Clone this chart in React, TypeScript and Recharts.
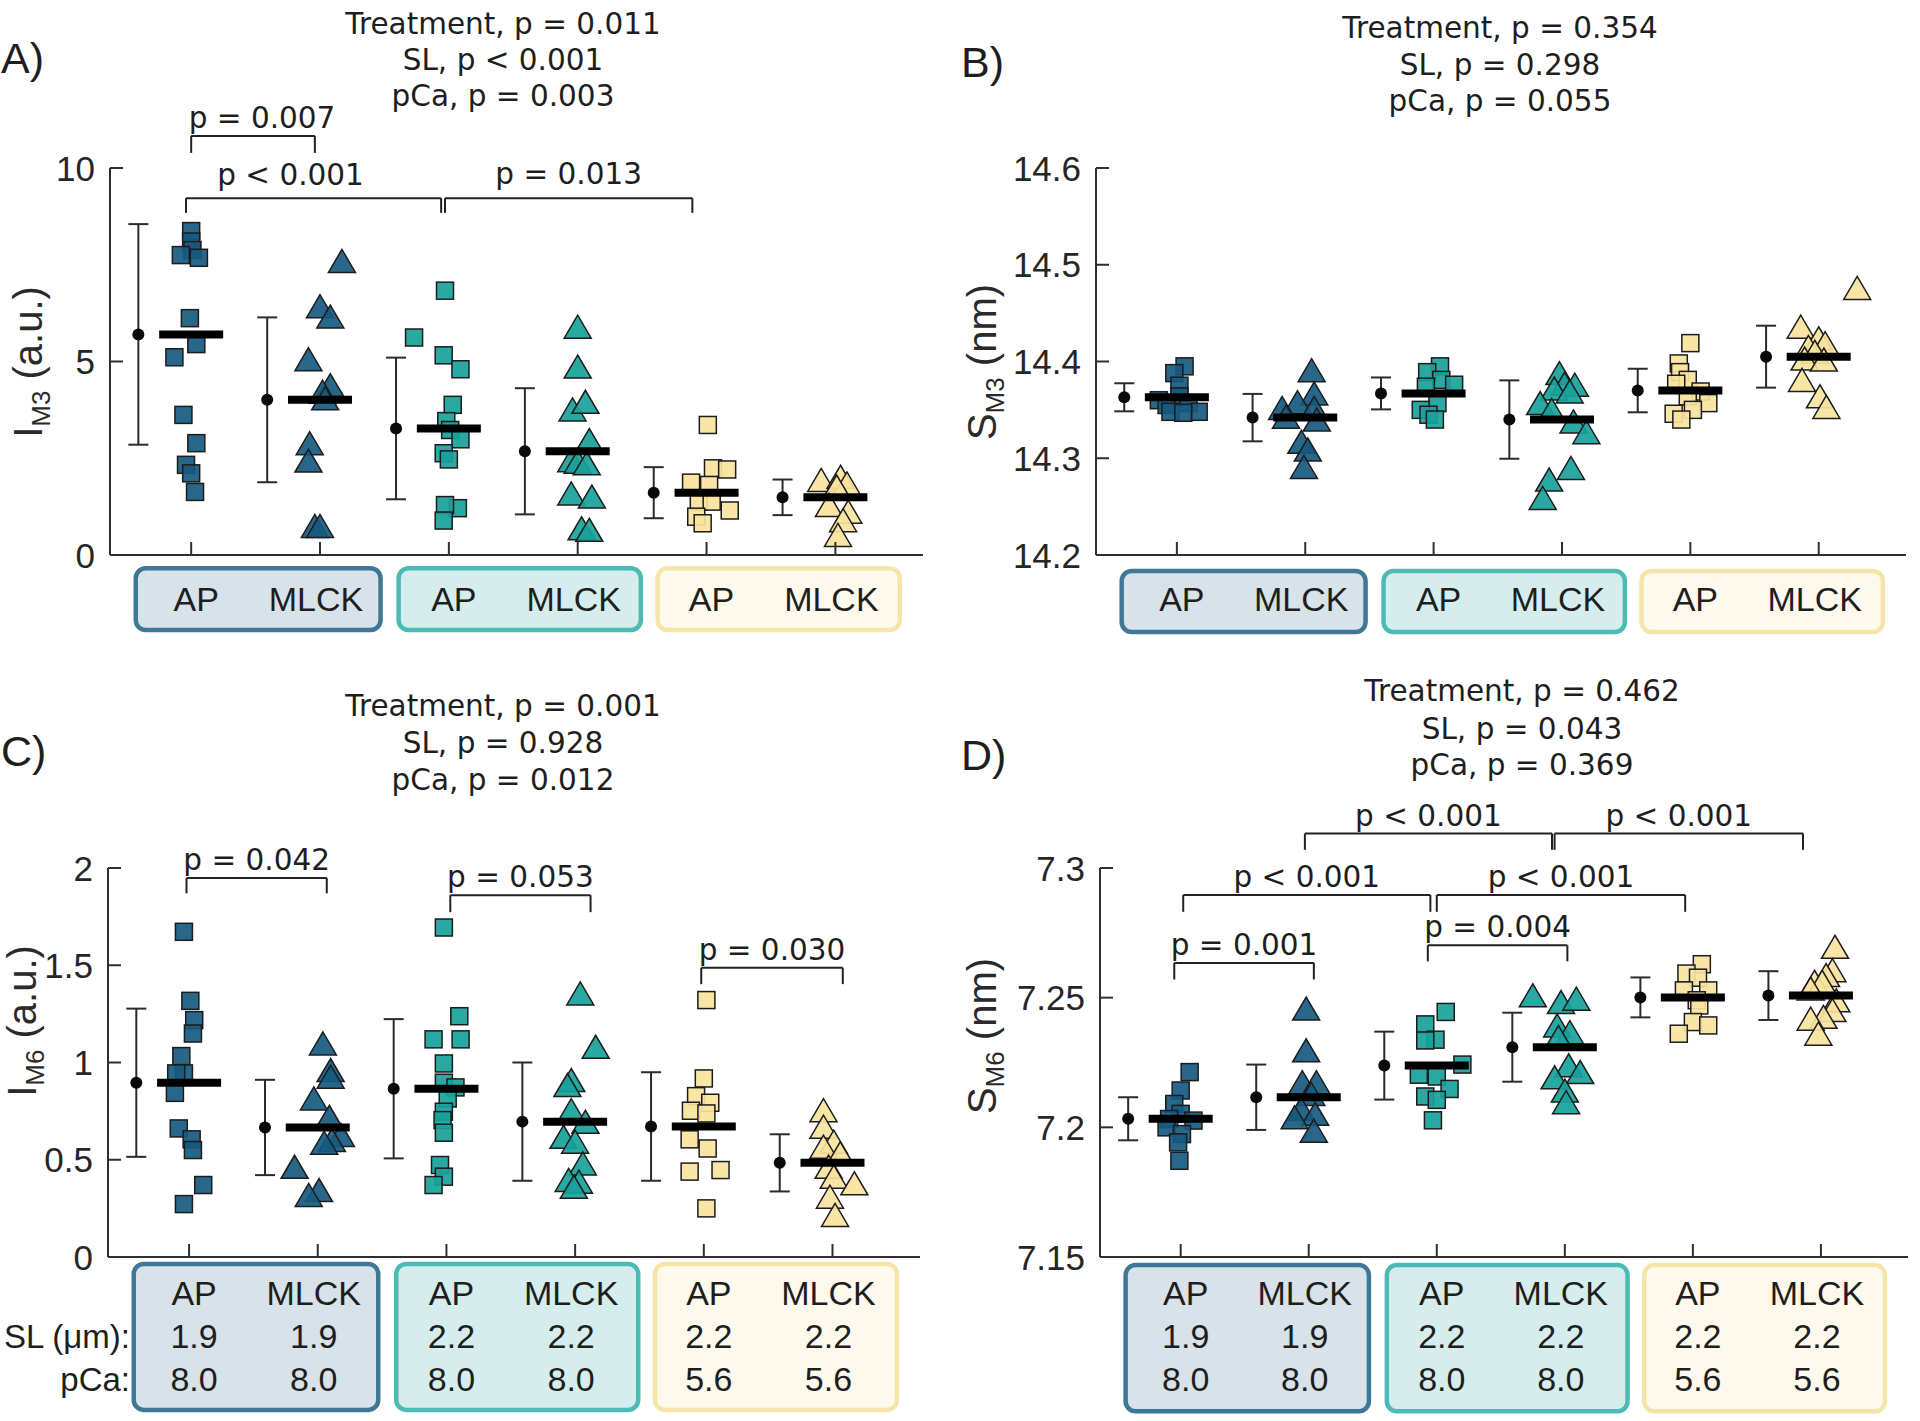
import React from 'react';
import {
  ComposedChart,
  Scatter,
  XAxis,
  YAxis,
  ErrorBar,
  ReferenceLine,
  ReferenceArea,
} from 'recharts';

// categories along x (1..6) and their labels
const CATEGORIES = [1, 2, 3, 4, 5, 6];
const TREATMENTS = ['AP', 'MLCK', 'AP', 'MLCK', 'AP', 'MLCK'];
const SL_VALUES = ['1.9', '1.9', '2.2', '2.2', '2.2', '2.2'];
const PCA_VALUES = ['8.0', '8.0', '8.0', '8.0', '5.6', '5.6'];

// ---- panel A: I_M3 ----
const A_VALUES = [
  [8.37, 8.1, 7.88, 7.75, 7.68, 6.12, 5.45, 5.11, 3.62, 2.89, 2.33, 2.11, 1.63],
  [7.6, 6.43, 6.16, 5.06, 4.39, 4.22, 4.05, 2.89, 2.44, 0.75, 0.75],
  [6.83, 5.62, 5.16, 4.8, 3.88, 3.46, 3.23, 2.99, 2.63, 2.47, 1.21, 1.29, 0.89],
  [5.9, 4.87, 3.76, 3.96, 2.97, 2.45, 2.41, 2.37, 1.59, 1.51, 0.69, 0.65],
  [3.36, 2.24, 2.21, 1.87, 1.81, 1.38, 1.38, 1.15, 0.99, 0.82],
  [1.94, 2.02, 1.85, 1.77, 1.29, 1.12, 0.9, 0.52],
];
const A_JITTER = [
  [0, 0, 0.01, -0.08, 0.06, -0.01, 0.04, -0.13, -0.06, 0.04, -0.04, 0, 0.03],
  [0.17, 0, 0.08, -0.09, 0.08, 0.02, 0.04, -0.08, -0.09, -0.04, 0],
  [-0.03, -0.27, -0.04, 0.09, 0.03, -0.02, 0.01, 0.09, -0.04, 0, 0.07, -0.03, -0.04],
  [0, 0, -0.04, 0.06, 0.09, -0.05, 0, 0.07, -0.05, 0.11, 0.03, 0.09],
  [0.01, 0.05, 0.16, -0.12, 0.02, -0.06, 0.04, 0.18, -0.08, -0.03],
  [-0.11, 0.04, 0.09, 0.01, -0.05, 0.1, 0.06, 0.02],
];
const A_MEANS = [5.7, 4.01, 3.27, 2.68, 1.61, 1.49];
const A_SD = [2.85, 2.13, 1.83, 1.63, 0.66, 0.46];
const A_BRACKETS = [
  { x1: 1.0, x2: 1.96, y: 10.83, leg: 10.39, text: 'p = 0.007', dx: 9, off: 8 },
  { x1: 0.96, x2: 2.94, y: 9.22, leg: 8.84, text: 'p < 0.001', dx: -23, off: 13 },
  { x1: 2.97, x2: 4.89, y: 9.22, leg: 8.84, text: 'p = 0.013', dx: 0, off: 14 },
];
const A_TITLE = ['Treatment, p = 0.011', 'SL, p < 0.001', 'pCa, p = 0.003'];

// ---- panel B: S_M3 ----
const B_VALUES = [
  [14.395, 14.388, 14.375, 14.364, 14.36, 14.357, 14.355, 14.348, 14.348, 14.347],
  [14.391, 14.367, 14.358, 14.352, 14.352, 14.343, 14.34, 14.317, 14.309, 14.291],
  [14.395, 14.389, 14.381, 14.376, 14.374, 14.357, 14.35, 14.345, 14.34],
  [14.388, 14.377, 14.376, 14.372, 14.369, 14.357, 14.35, 14.338, 14.327, 14.29, 14.278, 14.259],
  [14.419, 14.398, 14.389, 14.381, 14.377, 14.369, 14.364, 14.357, 14.35, 14.346, 14.34],
  [14.476, 14.436, 14.424, 14.419, 14.415, 14.41, 14.403, 14.402, 14.381, 14.364, 14.353],
];
const B_JITTER = [
  [0.06, -0.02, 0.02, 0.02, -0.14, 0.09, -0.08, 0.17, -0.05, 0.05],
  [0.05, 0.07, -0.06, -0.18, 0.07, -0.15, 0.09, -0.03, 0.02, -0.01],
  [0.05, -0.05, 0.06, 0.16, -0.06, 0.03, -0.1, -0.04, 0.01],
  [-0.02, 0.02, 0.1, -0.06, 0.06, -0.17, -0.08, 0.09, 0.19, 0.07, -0.1, -0.15],
  [0, -0.09, -0.08, -0.02, -0.11, 0.08, -0.02, 0.14, 0.02, -0.13, -0.07],
  [0.3, -0.14, 0, 0.05, -0.08, -0.03, -0.11, 0.04, -0.13, 0.01, 0.06],
];
const B_MEANS = [14.363, 14.342, 14.367, 14.34, 14.37, 14.405];
const B_SD = [0.0145, 0.0245, 0.0165, 0.0405, 0.0225, 0.032];
const B_TITLE = ['Treatment, p = 0.354', 'SL, p = 0.298', 'pCa, p = 0.055'];

// ---- panel C: I_M6 ----
const C_VALUES = [
  [1.672, 1.317, 1.218, 1.149, 1.033, 0.944, 0.944, 0.844, 0.661, 0.605, 0.55, 0.37, 0.272],
  [1.098, 0.961, 0.927, 0.815, 0.721, 0.627, 0.601, 0.588, 0.464, 0.344, 0.319],
  [1.694, 1.238, 1.119, 1.119, 0.995, 0.896, 0.872, 0.815, 0.747, 0.704, 0.639, 0.473, 0.413, 0.37],
  [1.355, 1.081, 0.91, 0.884, 0.755, 0.695, 0.618, 0.593, 0.481, 0.396, 0.387, 0.361],
  [1.321, 0.918, 0.827, 0.793, 0.752, 0.738, 0.605, 0.558, 0.439, 0.447, 0.25],
  [0.755, 0.67, 0.593, 0.567, 0.533, 0.464, 0.413, 0.379, 0.31, 0.216],
];
const C_JITTER = [
  [-0.04, 0.01, 0.04, 0.03, -0.06, -0.04, -0.1, -0.11, -0.08, 0.02, 0.03, 0.11, -0.04],
  [0.04, 0.1, 0.1, -0.03, 0.09, 0.18, 0.11, 0.05, -0.18, 0.01, -0.07],
  [-0.02, 0.1, -0.1, 0.11, -0.02, -0.02, 0.07, 0.01, -0.02, -0.03, -0.02, -0.05, -0.02, -0.1],
  [0.04, 0.16, -0.03, -0.06, -0.03, 0.08, -0.09, 0, 0.06, -0.05, 0.03, -0.01],
  [0.02, 0, -0.06, 0.05, -0.1, 0.02, -0.11, 0.03, -0.11, 0.13, 0.02],
  [-0.07, -0.07, 0.01, -0.07, 0.06, -0.03, 0.01, 0.17, -0.02, 0.02],
];
const C_MEANS = [0.896, 0.666, 0.865, 0.696, 0.671, 0.484];
const C_SD = [0.381, 0.245, 0.358, 0.304, 0.279, 0.147];
const C_BRACKETS = [
  { x1: 0.98, x2: 2.07, y: 1.948, leg: 1.87, text: 'p = 0.042', dx: 0, off: 8 },
  { x1: 3.03, x2: 4.12, y: 1.86, leg: 1.773, text: 'p = 0.053', dx: 0, off: 8 },
  { x1: 4.98, x2: 6.08, y: 1.487, leg: 1.403, text: 'p = 0.030', dx: 0, off: 8 },
];
const C_TITLE = ['Treatment, p = 0.001', 'SL, p = 0.928', 'pCa, p = 0.012'];

// ---- panel D: S_M6 ----
const D_VALUES = [
  [7.2213, 7.2142, 7.209, 7.2052, 7.2032, 7.2026, 7.2, 7.1974, 7.1942, 7.1871],
  [7.2458, 7.2297, 7.2174, 7.2174, 7.2129, 7.2071, 7.2052, 7.2039, 7.1987],
  [7.2445, 7.2397, 7.2338, 7.2335, 7.2242, 7.2203, 7.2196, 7.2148, 7.2119, 7.2106, 7.2027],
  [7.2509, 7.2483, 7.2496, 7.2393, 7.2367, 7.2348, 7.2239, 7.2193, 7.2213, 7.2142, 7.2097],
  [7.2629, 7.2593, 7.2577, 7.2528, 7.2528, 7.249, 7.247, 7.2406, 7.2393, 7.2361],
  [7.2696, 7.2606, 7.2587, 7.2561, 7.2561, 7.2535, 7.249, 7.2452, 7.2426, 7.2419, 7.2361],
];
const D_JITTER = [
  [0.07, 0, -0.05, 0, -0.09, 0.1, -0.11, 0.01, -0.02, -0.01],
  [-0.02, -0.02, -0.05, 0.06, 0.02, -0.06, 0.05, -0.11, 0.04],
  [0.07, -0.09, -0.01, -0.09, 0.2, -0.14, 0, 0.1, -0.09, 0, -0.03],
  [-0.25, -0.03, 0.09, -0.06, 0.04, -0.05, 0.03, -0.08, 0.12, 0, 0.01],
  [0.07, -0.05, 0.04, -0.07, 0.12, 0.03, 0.05, 0, 0.12, -0.11],
  [0.11, 0.09, 0.04, -0.05, 0.01, -0.08, 0.12, 0.09, 0.02, -0.08, -0.02],
];
const D_MEANS = [7.2033, 7.2116, 7.2238, 7.2309, 7.2501, 7.2508];
const D_SD = [0.0083, 0.0126, 0.0131, 0.0133, 0.0077, 0.0094];
const D_BRACKETS = [
  { x1: 0.95, x2: 2.04, y: 7.2634, leg: 7.257, text: 'p = 0.001', dx: 0, off: 8 },
  { x1: 1.02, x2: 2.95, y: 7.2896, leg: 7.2831, text: 'p < 0.001', dx: 0, off: 8 },
  { x1: 2.93, x2: 4.02, y: 7.2702, leg: 7.264, text: 'p = 0.004', dx: 0, off: 8 },
  { x1: 3.0, x2: 4.94, y: 7.2896, leg: 7.2831, text: 'p < 0.001', dx: 0, off: 8 },
  { x1: 1.97, x2: 3.9, y: 7.3133, leg: 7.307, text: 'p < 0.001', dx: 0, off: 8 },
  { x1: 3.92, x2: 5.86, y: 7.3133, leg: 7.307, text: 'p < 0.001', dx: 0, off: 8 },
];
const D_TITLE = ['Treatment, p = 0.462', 'SL, p = 0.043', 'pCa, p = 0.369'];

// group boxes under the axis (in category units)
const BOX_RANGES = [
  [0.57, 2.47],
  [2.61, 4.49],
  [4.62, 6.5],
];

const SANS = '"Liberation Sans", Arial, sans-serif';
const DEJAVU = '"DejaVu Sans", sans-serif';
const TEXT = '#1e1e1e';
const AXIS = '#2f2f2f';
const MARKER_FILL = ['#165a80', '#165a80', '#18a29a', '#18a29a', '#f8e39e', '#f8e39e'];
const BOX_FILL = ['#d7e2e9', '#d5eeed', '#fdf9ec'];
const BOX_STROKE = ['#3f7896', '#4cbab5', '#f6e5a8'];

const PANELS = [
  {
    key: 'A', left: 0, top: 0, width: 960, height: 660, yAxisWidth: 110, marginRight: 37,
    xAxisHeight: 105, domain: [0, 10], ticks: [0, 5, 10], vals: A_VALUES, dxs: A_JITTER,
    means: A_MEANS, sds: A_SD, brackets: A_BRACKETS, boxY: [-0.34, -1.94], rows: false,
    title: A_TITLE, titleX: 503, titleY: [25, 61, 97],
    label: { main: 'I', sub: 'M3', rest: ' (a.u.)', x: 28, y: 362 }, letterY: 58,
  },
  {
    key: 'B', left: 960, top: 0, width: 960, height: 660, yAxisWidth: 136, marginRight: 14,
    xAxisHeight: 105, domain: [14.2, 14.6], ticks: [14.2, 14.3, 14.4, 14.5, 14.6], vals: B_VALUES,
    dxs: B_JITTER, means: B_MEANS, sds: B_SD, brackets: [], boxY: [14.1835, 14.1204], rows: false,
    title: B_TITLE, titleX: 1500, titleY: [29, 66, 102],
    label: { main: 'S', sub: 'M3', rest: ' (nm)', x: 982, y: 362 }, letterY: 62,
  },
  {
    key: 'C', left: 0, top: 700, width: 960, height: 721, yAxisWidth: 108, marginRight: 40,
    xAxisHeight: 164, domain: [0, 2], ticks: [0, 0.5, 1, 1.5, 2], vals: C_VALUES, dxs: C_JITTER,
    means: C_MEANS, sds: C_SD, brackets: C_BRACKETS, boxY: [-0.036, -0.786], rows: true,
    title: C_TITLE, titleX: 503, titleY: [707, 744, 781],
    label: { main: 'I', sub: 'M6', rest: ' (a.u.)', x: 22, y: 1021 }, letterY: 751,
  },
  {
    key: 'D', left: 960, top: 700, width: 960, height: 721, yAxisWidth: 140, marginRight: 12,
    xAxisHeight: 164, domain: [7.15, 7.3], ticks: [7.15, 7.2, 7.25, 7.3], vals: D_VALUES,
    dxs: D_JITTER, means: D_MEANS, sds: D_SD, brackets: D_BRACKETS, boxY: [7.1469, 7.0905], rows: true,
    title: D_TITLE, titleX: 1522, titleY: [692, 730, 766],
    label: { main: 'S', sub: 'M6', rest: ' (nm)', x: 982, y: 1036 }, letterY: 755,
  },
];

const renderSquare = (fill: string) => (p: any) => (
  <rect x={p.cx - 8.5} y={p.cy - 8.5} width={17} height={17} fill={fill} fillOpacity={0.92} stroke="#1c1c1c" strokeWidth={1.5} />
);

const renderTriangle = (fill: string) => (p: any) => (
  <polygon
    points={`${p.cx},${p.cy - 11.5} ${p.cx - 13.5},${p.cy + 11.5} ${p.cx + 13.5},${p.cy + 11.5}`}
    fill={fill}
    fillOpacity={0.92}
    stroke="#1c1c1c"
    strokeWidth={1.5}
  />
);

const renderMeanDot = (p: any) => <circle cx={p.cx} cy={p.cy} r={6} fill="#0a0a0a" />;

const renderMeanBar = (p: any) => (
  <line x1={p.cx - 32} x2={p.cx + 32} y1={p.cy} y2={p.cy} stroke="#000" strokeWidth={8} />
);

const renderYTick = (p: any) => (
  <g>
    <line x1={p.x} y1={p.y} x2={p.x + 13} y2={p.y} stroke={AXIS} strokeWidth={2} />
    <text x={p.x - 15} y={p.y} textAnchor="end" dominantBaseline="central" fontFamily={SANS} fontSize={35} fill="#262626">
      {p.payload.value}
    </text>
  </g>
);

const makeXTick = (rows: boolean) => (p: any) => {
  const i = CATEGORIES.indexOf(p.payload.value);
  // labels sit slightly towards the middle of their group box
  const tx = p.x + (i % 2 === 0 ? 5 : -4);
  const t = { textAnchor: 'middle' as const, dominantBaseline: 'central' as const, fontFamily: SANS, fontSize: 34, fill: TEXT };
  return (
    <g>
      <line x1={p.x} y1={p.y} x2={p.x} y2={p.y - 13} stroke={AXIS} strokeWidth={2} />
      <text x={tx} y={p.y + (rows ? 36 : 44)} {...t}>{TREATMENTS[i]}</text>
      {rows && <text x={tx} y={p.y + 79} {...t}>{SL_VALUES[i]}</text>}
      {rows && <text x={tx} y={p.y + 122} {...t}>{PCA_VALUES[i]}</text>}
    </g>
  );
};

const makeBox = (k: number) => (p: any) => (
  <rect x={p.x} y={p.y} width={p.width} height={p.height} rx={10} fill={BOX_FILL[k]} stroke={BOX_STROKE[k]} strokeWidth={4.5} />
);

function Panel({ cfg }: { cfg: any }) {
  const errData = cfg.means.map((m: number, i: number) => ({ x: CATEGORIES[i] - 0.41, y: m, err: cfg.sds[i] }));
  const meanData = cfg.means.map((m: number, i: number) => ({ x: CATEGORIES[i], y: m }));
  const lineStyle = { stroke: '#222', strokeWidth: 2, ifOverflow: 'visible' as const };

  return (
    <div style={{ position: 'absolute', left: cfg.left, top: cfg.top }}>
      <ComposedChart
        width={cfg.width}
        height={cfg.height}
        margin={{ top: 168, right: cfg.marginRight, bottom: 0, left: 0 }}
      >
        {BOX_RANGES.map((r, k) => (
          <ReferenceArea
            key={`box-${k}`}
            x1={r[0]}
            x2={r[1]}
            y1={cfg.boxY[0]}
            y2={cfg.boxY[1]}
            ifOverflow="visible"
            shape={makeBox(k)}
          />
        ))}
        <XAxis
          type="number"
          dataKey="x"
          domain={[0.37, 6.68]}
          allowDataOverflow
          ticks={CATEGORIES}
          interval={0}
          tickSize={0}
          tickMargin={0}
          tickLine={false}
          height={cfg.xAxisHeight}
          axisLine={{ stroke: AXIS, strokeWidth: 2 }}
          tick={makeXTick(cfg.rows)}
        />
        <YAxis
          type="number"
          dataKey="y"
          domain={cfg.domain}
          allowDataOverflow
          ticks={cfg.ticks}
          interval={0}
          width={cfg.yAxisWidth}
          tickSize={0}
          tickMargin={0}
          tickLine={false}
          axisLine={{ stroke: AXIS, strokeWidth: 2 }}
          tick={renderYTick}
        />
        {cfg.brackets.map((b: any, k: number) => (
          <ReferenceLine
            key={`bl-${k}`}
            segment={[{ x: b.x1, y: b.leg }, { x: b.x1, y: b.y }]}
            {...lineStyle}
          />
        ))}
        {cfg.brackets.map((b: any, k: number) => (
          <ReferenceLine
            key={`br-${k}`}
            segment={[{ x: b.x2, y: b.leg }, { x: b.x2, y: b.y }]}
            {...lineStyle}
          />
        ))}
        {cfg.brackets.map((b: any, k: number) => (
          <ReferenceLine
            key={`bh-${k}`}
            segment={[{ x: b.x1, y: b.y }, { x: b.x2, y: b.y }]}
            {...lineStyle}
            label={{ value: b.text, position: 'top', offset: b.off, dx: b.dx, fill: TEXT, fontSize: 29.5, fontFamily: DEJAVU }}
          />
        ))}
        <Scatter data={errData} shape={renderMeanDot} isAnimationActive={false}>
          <ErrorBar dataKey="err" direction="y" width={10} stroke="#2b2b2b" strokeWidth={2} isAnimationActive={false} />
        </Scatter>
        {cfg.vals.map((vals: number[], g: number) => (
          <Scatter
            key={`g-${g}`}
            data={vals.map((v, i) => ({ x: CATEGORIES[g] + cfg.dxs[g][i], y: v }))}
            shape={g % 2 === 0 ? renderSquare(MARKER_FILL[g]) : renderTriangle(MARKER_FILL[g])}
            isAnimationActive={false}
          />
        ))}
        <Scatter data={meanData} shape={renderMeanBar} isAnimationActive={false} />
      </ComposedChart>
    </div>
  );
}

function Overlay({ cfg }: { cfg: any }) {
  return (
    <>
      {cfg.title.map((line: string, i: number) => (
        <div
          key={`t-${i}`}
          style={{
            position: 'absolute', left: cfg.titleX, top: cfg.titleY[i], transform: 'translate(-50%, -50%)',
            fontFamily: DEJAVU, fontSize: 29.5, lineHeight: 1, whiteSpace: 'nowrap', color: TEXT,
          }}
        >
          {line}
        </div>
      ))}
      <div
        style={{
          position: 'absolute', left: cfg.left + 1, top: cfg.letterY, transform: 'translateY(-50%)',
          fontFamily: SANS, fontSize: 43, lineHeight: 1, color: TEXT,
        }}
      >
        {cfg.key})
      </div>
      <div
        style={{
          position: 'absolute', left: cfg.label.x, top: cfg.label.y,
          transform: 'translate(-50%, -50%) rotate(-90deg)',
          fontFamily: SANS, fontSize: 40, lineHeight: 1, whiteSpace: 'nowrap', color: '#2a2a2a',
        }}
      >
        {cfg.label.main}
        <span style={{ fontSize: 26, position: 'relative', top: 8 }}>{cfg.label.sub}</span>
        {cfg.label.rest}
      </div>
    </>
  );
}

export default function App() {
  return (
    <div style={{ position: 'absolute', left: 0, top: 0, width: 1920, height: 1421, background: '#fff', overflow: 'hidden' }}>
      {PANELS.map((cfg) => (
        <Panel key={cfg.key} cfg={cfg} />
      ))}
      {PANELS.map((cfg) => (
        <Overlay key={`o-${cfg.key}`} cfg={cfg} />
      ))}
      <div style={{ position: 'absolute', right: 1920 - 130, top: 1336, transform: 'translateY(-50%)', fontFamily: SANS, fontSize: 33, lineHeight: 1, color: TEXT, whiteSpace: 'nowrap' }}>
        SL (μm):
      </div>
      <div style={{ position: 'absolute', right: 1920 - 130, top: 1379, transform: 'translateY(-50%)', fontFamily: SANS, fontSize: 33, lineHeight: 1, color: TEXT, whiteSpace: 'nowrap' }}>
        pCa:
      </div>
    </div>
  );
}
